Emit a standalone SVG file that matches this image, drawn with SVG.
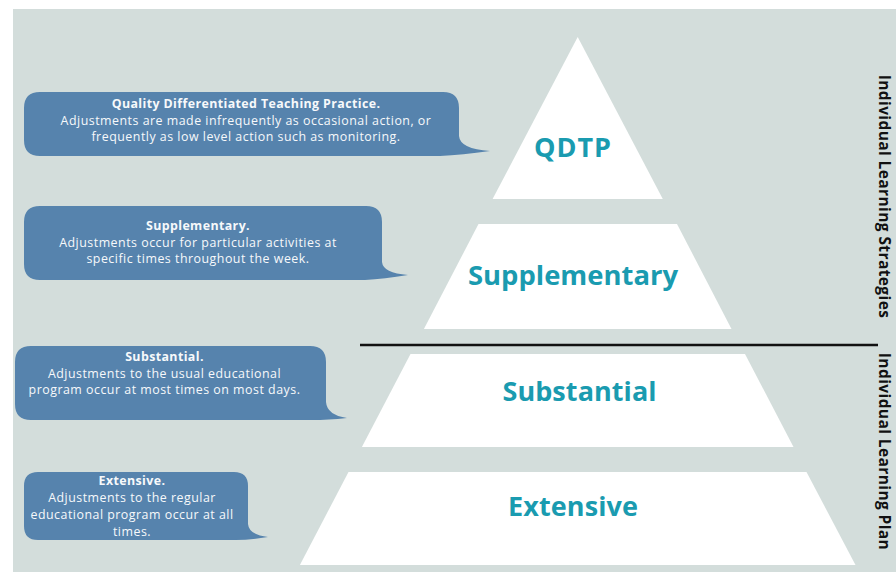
<svg xmlns="http://www.w3.org/2000/svg" width="896" height="572" viewBox="0 0 896 572">
  <style>
    .tier { fill: #ffffff; }
    .tier-label { font-family: "Open Sans", "Liberation Sans", sans-serif; font-weight: 700; font-size: 27px; fill: #1a9bb0; text-anchor: middle; }
    .bubble { fill: #5683ad; }
    .bubble-text { font-family: "Open Sans", "Liberation Sans", sans-serif; font-size: 12.4px; letter-spacing: 0.5px; fill: #f7f9fb; text-anchor: middle; }
    .bubble-title { font-weight: 700; letter-spacing: 0.4px; }
    .side-label { font-family: "Open Sans", "Liberation Sans", sans-serif; font-weight: 700; font-size: 15.5px; letter-spacing: 0.4px; fill: #111111; text-anchor: middle; }
    .divider { stroke: #111111; stroke-width: 2.6; fill: none; }
  </style>

  <!-- backdrop panel -->
  <rect x="0" y="0" width="896" height="572" fill="#ffffff"/>
  <rect x="13" y="9" width="883" height="563" fill="#d3dddb"/>

  <!-- pyramid tiers: one triangle (apex 577.7,37) sliced into four bands -->
  <g id="tier-qdtp">
    <polygon class="tier" points="577.7,37 492.6,199 662.8,199"/>
    <text class="tier-label" x="572.5" y="157" textLength="77" lengthAdjust="spacing">QDTP</text>
  </g>
  <g id="tier-supplementary">
    <polygon class="tier" points="478.5,224 677,224 731.5,329 423.9,329"/>
    <text class="tier-label" x="573" y="285" textLength="210" lengthAdjust="spacingAndGlyphs">Supplementary</text>
  </g>
  <g id="tier-substantial">
    <polygon class="tier" points="410.5,354 745,354 793.5,447 361.9,447"/>
    <text class="tier-label" x="579.5" y="401" textLength="154" lengthAdjust="spacing">Substantial</text>
  </g>
  <g id="tier-extensive">
    <polygon class="tier" points="348.5,472 806.5,472 855.5,565 299.9,565"/>
    <text class="tier-label" x="573" y="516" textLength="130" lengthAdjust="spacing">Extensive</text>
  </g>

  <!-- speech-bubble callouts -->
  <g id="bubble-qdtp">
    <path class="bubble" d="M40,92 H443 Q459,92 459,108 V136 Q460,149 490,151 Q462,155 440,156 H40 Q24,156 24,140 V108 Q24,92 40,92 Z"/>
    <text class="bubble-text bubble-title" x="246" y="108">Quality Differentiated Teaching Practice.</text>
    <text class="bubble-text" x="246" y="124.5">Adjustments are made infrequently as occasional action, or</text>
    <text class="bubble-text" x="246" y="140.5">frequently as low level action such as monitoring.</text>
  </g>
  <g id="bubble-supplementary">
    <path class="bubble" d="M40,206 H366 Q382,206 382,222 V262 Q383,273 408,275 Q384,279 365,280 H40 Q24,280 24,264 V222 Q24,206 40,206 Z"/>
    <text class="bubble-text bubble-title" x="198" y="230">Supplementary.</text>
    <text class="bubble-text" x="198" y="246.7">Adjustments occur for particular activities at</text>
    <text class="bubble-text" x="198" y="263.3">specific times throughout the week.</text>
  </g>
  <g id="bubble-substantial">
    <path class="bubble" d="M31,346 H310 Q326,346 326,362 V402 Q327,415 347,418 Q328,420 312,420 H31 Q15,420 15,404 V362 Q15,346 31,346 Z"/>
    <text class="bubble-text bubble-title" x="164.5" y="361">Substantial.</text>
    <text class="bubble-text" x="164.5" y="377.7">Adjustments to the usual educational</text>
    <text class="bubble-text" x="164.5" y="394.3">program occur at most times on most days.</text>
  </g>
  <g id="bubble-extensive">
    <path class="bubble" d="M38,472 H234 Q248,472 248,486 V524 Q249,535 268,537 Q250,540 236,540 H38 Q24,540 24,526 V486 Q24,472 38,472 Z"/>
    <text class="bubble-text bubble-title" x="132" y="485">Extensive.</text>
    <text class="bubble-text" x="132" y="501.7">Adjustments to the regular</text>
    <text class="bubble-text" x="132" y="519.3">educational program occur at all</text>
    <text class="bubble-text" x="132" y="535.7">times.</text>
  </g>

  <!-- divider between the two support bands -->
  <g id="connectors">
    <line class="divider" x1="360" y1="345" x2="878" y2="345"/>
  </g>

  <!-- vertical band labels -->
  <g id="label-strategies">
    <text class="side-label" transform="translate(879,196.5) rotate(90)">Individual Learning Strategies</text>
  </g>
  <g id="label-plan">
    <text class="side-label" transform="translate(879,451.5) rotate(90)">Individual Learning Plan</text>
  </g>
</svg>
